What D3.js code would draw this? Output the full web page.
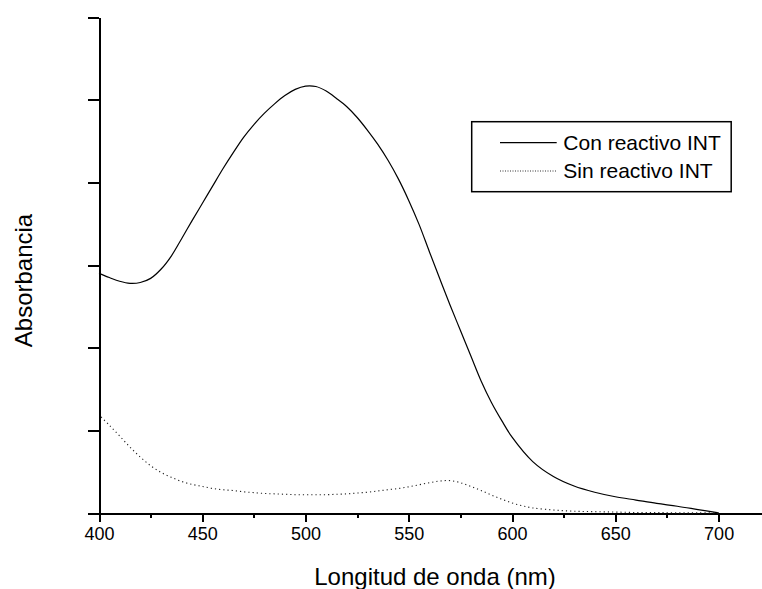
<!DOCTYPE html>
<html>
<head>
<meta charset="utf-8">
<script src="https://cdn.jsdelivr.net/npm/d3@7"></script>
<style>
  html, body { margin: 0; padding: 0; background: #fff; }
  svg { display: block; font-family: "Liberation Sans", Arial, sans-serif; }
  .axis path, .axis line { stroke: #000; stroke-width: 2; shape-rendering: crispEdges; }
  .axis text { fill: #000; font-size: 18px; }
</style>
</head>
<body>
<div id="chart" style="width:762px;height:589px;"></div>
<script>
// wavelengths (nm) for "Con reactivo INT"
const conNm = [400,405,410,415,420,425,430,435,440,445,450,455,460,465,470,475,480,485,490,495,
	500,505,510,515,520,525,530,535,540,545,550,555,560,565,570,575,580,585,590,595,
	600,610,620,630,640,650,660,670,680,690,700];
const conAbs = [0.580,0.570,0.561,0.556,0.558,0.568,0.590,0.622,0.664,0.707,0.749,0.791,0.833,0.872,0.909,0.940,0.967,0.990,1.010,1.025,
	1.033,1.032,1.021,1.003,0.983,0.957,0.926,0.892,0.853,0.808,0.756,0.698,0.632,0.567,0.503,0.442,0.381,0.320,0.268,0.224,
	0.184,0.125,0.089,0.066,0.051,0.040,0.032,0.024,0.017,0.009,0.001];

// wavelengths (nm) for "Sin reactivo INT"
const sinNm = [401,405,410,415,420,425,430,435,440,445,450,455,460,465,470,475,480,485,490,495,
	500,505,510,515,520,525,530,535,540,545,550,555,560,565,570,575,580,585,590,595,
	600,605,610,620,630,640,650,660,670,680,690,700];
const sinAbs = [0.233,0.213,0.187,0.160,0.136,0.115,0.099,0.087,0.077,0.070,0.065,0.060,0.057,0.055,0.052,0.050,0.048,0.047,0.046,0.045,
	0.045,0.045,0.045,0.046,0.047,0.049,0.051,0.054,0.057,0.060,0.064,0.069,0.074,0.078,0.079,0.074,0.065,0.055,0.044,0.034,
	0.025,0.018,0.013,0.008,0.005,0.004,0.003,0.002,0.002,0.001,0.001,0.001];

const xMajorTicks = [400,450,500,550,600,650,700];
const xMinorTicks = [425,475,525,575,625,675];
const yTicks = [0,0.2,0.4,0.6,0.8,1.0,1.2];

const seriesNames = ["Con reactivo INT", "Sin reactivo INT"];

const width = 762,
	height = 589,
	margin = {top:17, right:0, bottom:75.7, left:99},
	innerWidth = width - margin.left - margin.right,
	innerHeight = height - margin.top - margin.bottom;

const xScale = d3.scaleLinear()
	.domain([400, 721])
	.range([0, innerWidth]);

const yScale = d3.scaleLinear()
	.domain([0, 1.2])
	.range([innerHeight, 0]);

const svg = d3.select('#chart')
	.append('svg')
	.attr('width', width)
	.attr('height', height);

const chartInner = svg.append('g')
	.attr('transform', `translate(${margin.left},${margin.top})`);

// minor x ticks
chartInner.append('g')
	.classed('axis', true)
	.attr('transform', `translate(0,${innerHeight})`)
	.call(d3.axisBottom(xScale).tickValues(xMinorTicks).tickSize(5).tickSizeOuter(0).tickFormat(''))
	.call(g => g.select('.domain').remove());

// major x ticks + labels
chartInner.append('g')
	.classed('axis', true)
	.attr('transform', `translate(0,${innerHeight})`)
	.call(d3.axisBottom(xScale).tickValues(xMajorTicks).tickSize(9).tickSizeOuter(0).tickPadding(5).tickFormat(d3.format('d')));

// y axis, no labels
chartInner.append('g')
	.classed('axis', true)
	.call(d3.axisLeft(yScale).tickValues(yTicks).tickSize(11).tickSizeOuter(0).tickFormat(''));

const line = d3.line()
	.x(d => xScale(d[0]))
	.y(d => yScale(d[1]))
	.curve(d3.curveCatmullRom.alpha(0.5));

chartInner.append('path')
	.datum(d3.zip(conNm, conAbs))
	.attr('d', line)
	.style('fill', 'none')
	.style('stroke', '#000')
	.style('stroke-width', 1.2);

chartInner.append('path')
	.datum(d3.zip(sinNm, sinAbs))
	.attr('d', line)
	.style('fill', 'none')
	.style('stroke', '#222')
	.style('stroke-width', 1.1)
	.style('stroke-dasharray', '1.2,3');

// axis titles
svg.append('text')
	.attr('x', 435)
	.attr('y', 585)
	.attr('text-anchor', 'middle')
	.style('font-size', '24px')
	.text('Longitud de onda (nm)');

svg.append('text')
	.attr('transform', 'translate(31.5,280.5) rotate(-90)')
	.attr('text-anchor', 'middle')
	.style('font-size', '24px')
	.text('Absorbancia');

// legend
const legend = svg.append('g').classed('legend', true);

legend.append('rect')
	.attr('x', 471.7)
	.attr('y', 121.7)
	.attr('width', 259.5)
	.attr('height', 70)
	.style('fill', '#fff')
	.style('stroke', '#000')
	.style('stroke-width', 1.5);

seriesNames.forEach((name, i) => {
	const ly = [142.7, 171][i];
	legend.append('line')
		.attr('x1', 500).attr('x2', 556.7)
		.attr('y1', ly).attr('y2', ly)
		.style('stroke', i === 0 ? '#000' : '#333')
		.style('stroke-width', i === 0 ? 1.2 : 1)
		.style('stroke-dasharray', i === 0 ? null : '1,1.5');
	legend.append('text')
		.attr('x', 563.3)
		.attr('y', [150, 178.3][i])
		.style('font-size', '21px')
		.text(name);
});
</script>
</body>
</html>
